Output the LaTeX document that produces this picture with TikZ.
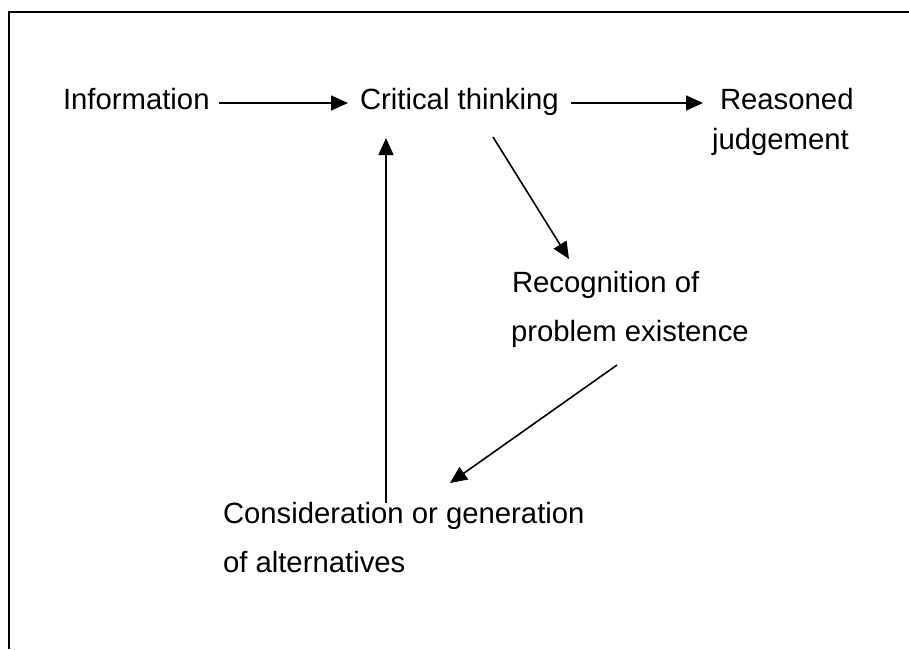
\documentclass[tikz,border=0pt]{standalone}
\usepackage{fontspec}
\setmainfont{Liberation Sans}
\usetikzlibrary{arrows.meta,calc}
\tikzset{
  lbl/.style={inner sep=0pt, outer sep=0pt, anchor=base west, font=\fontsize{29.3}{34}\selectfont},
  conn/.style={line width=1.6pt, -{Triangle[length=17pt,width=15pt]}},
  frameline/.style={line width=2.2pt}
}
\begin{document}
\begin{tikzpicture}[x=1pt,y=-1pt]
\useasboundingbox (0,0) rectangle (909,649);
\draw[frameline] (9,649) -- (9,12) -- (909,12);

\node[lbl] (info) at (63,109) {Information};
\node[lbl] (crit) at (360,109) {Critical thinking};
\node[lbl] (reas1) at (720,109) {Reasoned};
\node[lbl] (reas2) at (712,149) {judgement};
\node[lbl] (rec1) at (512,292) {Recognition of};
\node[lbl] (rec2) at (511,341) {problem existence};
\node[lbl] (cons1) at (223,523) {Consideration or generation};
\node[lbl] (cons2) at (223,572) {of alternatives};

\draw[conn] ($(info.base east)+(9,-6)$) -- ($(crit.base west)+(-12,-6)$);
\draw[conn] ($(crit.base east)+(12,-6)$) -- ($(reas1.base west)+(-17,-6)$);
\draw[conn] ($(crit.base west)+(133,28)$) -- ($(rec1.base west)+(57,-33)$);
\draw[conn] ($(rec2.base west)+(106,24)$) -- ($(cons1.base west)+(227,-40)$);
\draw[conn] ($(cons1.base west)+(163,-20)$) -- ($(crit.base west)+(26,29)$);
\end{tikzpicture}
\end{document}
